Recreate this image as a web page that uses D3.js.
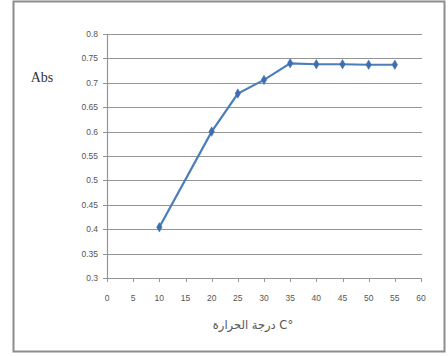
<!DOCTYPE html>
<html><head><meta charset="utf-8">
<script src="https://cdn.jsdelivr.net/npm/d3@7"></script>
<style>html,body{margin:0;padding:0;background:#fff;}svg{display:block;}</style>
</head><body>
<svg id="c" width="448" height="356"></svg>
<script>
const temps = [10, 20, 25, 30, 35, 40, 45, 50, 55];
const absValues = [0.404, 0.600, 0.678, 0.706, 0.740, 0.738, 0.738, 0.737, 0.737];
const xTicks = [0, 5, 10, 15, 20, 25, 30, 35, 40, 45, 50, 55, 60];
const yTicks = [0.3, 0.35, 0.4, 0.45, 0.5, 0.55, 0.6, 0.65, 0.7, 0.75, 0.8];
const yTitle = "Abs";
const xTitle = "درجة الحرارة C°";

const svg = d3.select("#c");
svg.append("rect").attr("x", 13.5).attr("y", 1.5).attr("width", 431).attr("height", 350)
  .attr("fill", "#fff").attr("stroke", "#8c8c8c").attr("stroke-width", 2);

const x = d3.scaleLinear().domain([0, 60]).range([107, 421]);
const y = d3.scaleLinear().domain([0.3, 0.8]).range([278, 34]);

const grid = svg.append("g");
grid.selectAll("line").data(yTicks).join("line")
  .attr("x1", x(0) - 4).attr("x2", x(60) + 1)
  .attr("y1", d => Math.round(y(d)) + 0.5).attr("y2", d => Math.round(y(d)) + 0.5)
  .attr("stroke", "#959595").attr("stroke-width", 1.2);

svg.append("line").attr("x1", Math.round(x(0)) + 0.5).attr("x2", Math.round(x(0)) + 0.5)
  .attr("y1", y(0.8)).attr("y2", y(0.3)).attr("stroke", "#959595").attr("stroke-width", 1.2);

svg.append("g").selectAll("line").data(xTicks).join("line")
  .attr("x1", d => Math.round(x(d)) + 0.5).attr("x2", d => Math.round(x(d)) + 0.5)
  .attr("y1", y(0.3)).attr("y2", y(0.3) + 4).attr("stroke", "#959595");

const font = "'Liberation Sans', Arial, sans-serif";
svg.append("g").selectAll("text").data(yTicks).join("text")
  .attr("x", 98).attr("y", d => y(d)).attr("dy", "0.35em")
  .attr("text-anchor", "end").attr("font-family", font).attr("font-size", 8.5).attr("fill", "#555")
  .text(d => d3.format("")(d));

svg.append("g").selectAll("text").data(xTicks).join("text")
  .attr("x", d => x(d)).attr("y", 298).attr("dy", "0.35em")
  .attr("text-anchor", "middle").attr("font-family", font).attr("font-size", 8.5).attr("fill", "#555")
  .text(d => d);

svg.append("text").attr("x", 42).attr("y", 77).attr("dy", "0.35em").attr("text-anchor", "middle")
  .attr("font-family", "'Liberation Serif', 'Times New Roman', serif").attr("font-size", 14).attr("fill", "#333")
  .text(yTitle);

svg.append("text").attr("x", 253).attr("y", 325).attr("dy", "0.35em").attr("text-anchor", "middle")
  .attr("font-family", "'DejaVu Sans', 'Noto Sans', sans-serif").attr("font-size", 11.5).attr("fill", "#555")
  .text(xTitle);

const pts = temps.map((t, i) => [t, absValues[i]]);
svg.append("path").datum(pts)
  .attr("d", d3.line().x(d => x(d[0])).y(d => y(d[1])))
  .attr("fill", "none").attr("stroke", "#4a7ebb").attr("stroke-width", 2.2);

svg.append("g").selectAll("path").data(pts).join("path")
  .attr("transform", d => `translate(${x(d[0])},${y(d[1])})`)
  .attr("d", d3.symbol().type(d3.symbolDiamond).size(26))
  .attr("fill", "#3d6fb0").attr("stroke", "#3d6fb0").attr("stroke-width", 0.5);
</script>
</body></html>
